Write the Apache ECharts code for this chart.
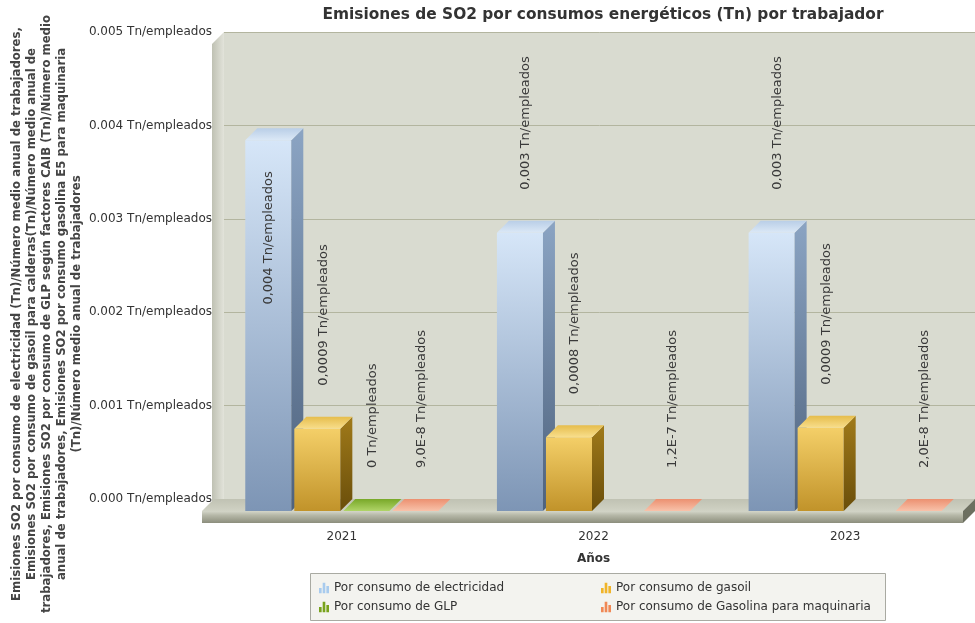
<!DOCTYPE html>
<html><head><meta charset="utf-8">
<script src="https://cdn.jsdelivr.net/npm/echarts@6/dist/echarts.min.js"></script>
<style>html,body{margin:0;padding:0;background:#fff}#c{width:975px;height:623px}</style>
</head><body><div id="c"></div>
<script>
// ---- data ----
const categories = ['2021', '2022', '2023'];
const seriesNames = ['Por consumo de electricidad', 'Por consumo de gasoil', 'Por consumo de GLP', 'Por consumo de Gasolina para maquinaria'];
const electricidad = [0.00397, 0.00298, 0.00298];
const gasoil = [0.00088, 0.00079, 0.00089];
const glp = [0, null, null];
const gasolina = [9.0e-8, 1.2e-7, 2.0e-8];
const yMin = 0, yMax = 0.005, yStep = 0.001;
const unit = 'Tn/empleados';
const chartTitle = 'Emisiones de SO2 por consumos energéticos (Tn) por trabajador';
const yTitle = 'Emisiones SO2 por consumo de electricidad (Tn)/Número medio anual de trabajadores,\nEmisiones SO2 por consumo de gasoil para calderas(Tn)/Número medio anual de\ntrabajadores, Emisiones SO2 por consumo de GLP según factores CAIB (Tn)/Número medio\nanual de trabajadores, Emisiones SO2 por consumo gasolina E5 para maquinaria\n(Tn)/Número medio anual de trabajadores';
const xTitle = 'Años';

// ---- styles ----
const FONT = '"DejaVu Sans", Verdana, sans-serif';
const D = 12; // 3D depth
const palettes = [
  {front: ['#d6e6f8', '#7d95b5'], side: ['#8ba4c3', '#4e627d'], top: ['#b9cee7', '#dbe8f6'], legend: '#a8cbee'},
  {front: ['#f4cf68', '#c1932a'], side: ['#a07a1a', '#6a4e0a'], top: ['#e6bd4c', '#f8de8c'], legend: '#f0b429'},
  {front: ['#a6cf56', '#6e9a22'], side: ['#6a8f20', '#4a6a10'], top: ['#78a828', '#b0d468'], legend: '#78a21c'},
  {front: ['#f6b49c', '#e88a68'], side: ['#c86a48', '#a85030'], top: ['#ec9070', '#f8c2aa'], legend: '#f08855'}
];
function lin(a, b, horiz) {
  return new echarts.graphic.LinearGradient(0, 0, horiz ? 1 : 0, horiz ? 0 : 1, [{offset: 0, color: a}, {offset: 1, color: b}]);
}
function fmt(v) {
  if (v === 0) return '0';
  if (Math.abs(v) < 1e-5) return v.toExponential(1).replace('.', ',').replace('e', 'E');
  return v.toPrecision(1).replace('.', ',');
}
function renderBar(si) {
  return function (params, api) {
    const cat = api.value(0), v = api.value(1);
    if (v === null || v === undefined || isNaN(v)) return null;
    const base = api.coord([cat, 0]), top = api.coord([cat, v]);
    const band = api.size([1, 0])[0];
    const slot = band * 49 / 251.5, bw = slot * 46 / 49;
    const cx = base[0] + (si - 1.5) * slot;
    const x0 = cx - bw / 2, x1 = cx + bw / 2, yb = base[1], yt = Math.min(top[1], yb);
    const p = palettes[si];
    const ch = [];
    if (yb - yt > 0.5) {
      ch.push({type: 'rect', shape: {x: x0, y: yt, width: bw, height: yb - yt}, style: {fill: lin(p.front[0], p.front[1])}});
      ch.push({type: 'polygon', shape: {points: [[x1, yt], [x1 + D, yt - D], [x1 + D, yb - D], [x1, yb]]}, style: {fill: lin(p.side[0], p.side[1])}});
    }
    ch.push({type: 'polygon', shape: {points: [[x0, yt], [x1, yt], [x1 + D, yt - D], [x0 + D, yt - D]]}, style: {fill: lin(p.top[0], p.top[1])}});
    const txt = fmt(v) + ' ' + unit;
    const len = txt.length * 7.8;
    const gap = 31;
    let lx, ly, align;
    if (yt - D - gap - len < params.coordSys.y - D) {
      lx = cx; ly = yt + 31; align = 'right';
    } else {
      lx = cx + D / 2; ly = yt - D - gap; align = 'left';
    }
    ch.push({type: 'text', x: lx, y: ly, rotation: Math.PI / 2,
      style: {text: txt, fill: '#3a3a3a', font: '13px ' + FONT, align: align, verticalAlign: 'middle'}});
    return {type: 'group', children: ch};
  };
}
function renderDecor(params, api) {
  const cs = params.coordSys;
  const yb = cs.y + cs.height;
  const xl = cs.x - 14, xr = cs.x + cs.width - 8, T = 12;
  return {type: 'group', children: [
    {type: 'polygon', shape: {points: [[cs.x + 8, cs.y - D], [cs.x + 8, yb - D], [cs.x - 4, yb], [cs.x - 4, cs.y]]},
      style: {fill: lin('#bfc1b3', '#e2e3da', true)}},
    {type: 'polygon', shape: {points: [[xl, yb], [xr, yb], [xr + D, yb - D], [xl + D, yb - D]]},
      style: {fill: lin('#c0c2b3', '#d0d2c4')}},
    {type: 'rect', shape: {x: xl, y: yb, width: xr - xl, height: T},
      style: {fill: new echarts.graphic.LinearGradient(0, 0, 0, 1, [{offset: 0, color: '#d4d6c9'}, {offset: 0.35, color: '#b6b8a8'}, {offset: 1, color: '#8c8e7d'}])}},
    {type: 'polygon', shape: {points: [[xr, yb], [xr + D, yb - D], [xr + D, yb - D + T], [xr, yb + T]]},
      style: {fill: '#6c6f60'}}
  ]};
}

const valueSets = [electricidad, gasoil, glp, gasolina];
const barSeries = valueSets.map((vals, si) => ({
  name: seriesNames[si],
  type: 'custom',
  xAxisIndex: 1, yAxisIndex: 1,
  z: 3,
  itemStyle: {color: palettes[si].legend},
  renderItem: renderBar(si),
  encode: {x: 0, y: 1},
  data: categories.map((c, i) => [i, vals[i]])
}));

const legendIcon = 'path://M0,10 L2.5,10 L2.5,5 L0,5 Z M3.5,10 L6,10 L6,0 L3.5,0 Z M7,10 L9.5,10 L9.5,3 L7,3 Z';
const legendCommon = {
  orient: 'vertical', top: 576, itemGap: 5, itemWidth: 10, itemHeight: 11, icon: legendIcon,
  selectedMode: false,
  textStyle: {fontSize: 12, color: '#333', fontFamily: FONT, lineHeight: 14}
};

const chart = echarts.init(document.getElementById('c'), null, {renderer: 'canvas'});
chart.setOption({
  animation: false,
  backgroundColor: '#ffffff',
  title: {text: chartTitle, left: 598, textAlign: 'center', top: 2,
    textStyle: {fontSize: 15.4, fontWeight: 'bold', color: '#333', fontFamily: FONT}},
  legend: [
    Object.assign({left: 314, data: [seriesNames[0], seriesNames[2]]}, legendCommon),
    Object.assign({left: 596, data: [seriesNames[1], seriesNames[3]]}, legendCommon)
  ],
  grid: [
    {left: 224, right: 0, top: 32, bottom: 124, show: true, backgroundColor: '#d9dbd0', borderWidth: 0},
    {left: 216, right: 4, top: 44, bottom: 112}
  ],
  xAxis: [
    {type: 'category', gridIndex: 0, data: categories, show: false},
    {type: 'category', gridIndex: 1, data: categories,
      axisLine: {show: false}, axisTick: {show: false},
      axisLabel: {margin: 20, fontSize: 12, color: '#333', fontFamily: FONT},
      name: xTitle, nameLocation: 'middle', nameGap: 42,
      nameTextStyle: {fontSize: 12, fontWeight: 'bold', color: '#333', fontFamily: FONT}}
  ],
  yAxis: [
    {type: 'value', gridIndex: 0, min: yMin, max: yMax, interval: yStep,
      axisLine: {show: false}, axisTick: {show: false},
      axisLabel: {margin: 12, fontSize: 12, color: '#333', fontFamily: FONT,
        formatter: v => v.toFixed(3) + ' ' + unit},
      splitLine: {show: true, lineStyle: {color: '#b3b59f', width: 1}}},
    {type: 'value', gridIndex: 1, min: yMin, max: yMax, interval: yStep, show: false, splitLine: {show: false}}
  ],
  graphic: [
    {type: 'rect', left: 310, top: 573, shape: {width: 575, height: 47}, z: -1,
      style: {fill: '#f3f3ef', stroke: '#a9aaa2', lineWidth: 1}},
    {type: 'text', x: 47, y: 314, rotation: Math.PI / 2,
      style: {text: yTitle, fill: '#444', font: 'bold 11.7px ' + FONT, align: 'center', verticalAlign: 'middle', lineHeight: 15}}
  ],
  series: [
    {type: 'custom', name: 'decor', xAxisIndex: 1, yAxisIndex: 1, z: 1, silent: true,
      renderItem: renderDecor, data: [[0, 0]]}
  ].concat(barSeries)
});
</script></body></html>
